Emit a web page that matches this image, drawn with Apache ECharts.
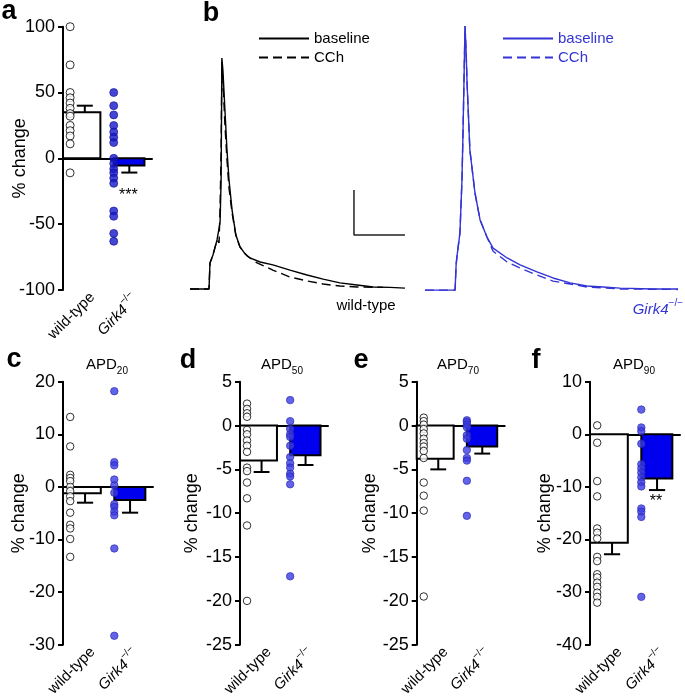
<!DOCTYPE html>
<html><head><meta charset="utf-8">
<script src="https://cdn.jsdelivr.net/npm/echarts@6.0.0/dist/echarts.min.js"></script>
<style>html,body{margin:0;padding:0;background:#fff}#c{width:685px;height:699px}</style>
</head><body><div id="c"></div>
<script>
// ---------------- DATA ----------------
const groups = ['wild-type', 'Girk4−/−'];

// panel a
const aTicks = [-100, -50, 0, 50, 100];
const aWT = [100, 71, 50, 46, 42, 38, 34, 32, 25, 21, 17, 11, -11];
const aKO = [50, 40, 33, 25, 20, 16, 12, 0, -4, -8, -11, -15, -19, -40, -44, -57, -63];
const aMean = [35, -5.5];
const aSEM = [5, 5.3];
const aSig = ['', '***'];

// panel c (APD20)
const cTicks = [-30, -20, -10, 0, 10, 20];
const cWT = [13.3, 7.7, 2.3, 1.7, 1.1, 0, -0.8, -1.8, -2.7, -4.9, -7.2, -7.9, -9.9, -13.3];
const cKO = [18.2, 4.7, 4.1, 1.4, 0.3, -1.1, -3.3, -3.8, -4.7, -5.4, -11.7, -28.3];
const cMean = [-1.2, -2.5];
const cSEM = [1.8, 2.4];

// panel d (APD50)
const dTicks = [-25, -20, -15, -10, -5, 0, 5];
const dWT = [2.5, 1.9, 1.4, 1.0, -0.5, -1.0, -1.7, -2.3, -3.0, -4.8, -5.2, -6.5, -8.3, -11.4, -20.0];
const dKO = [2.9, 0.5, -0.4, -1.0, -1.3, -2.3, -3.6, -4.3, -4.8, -5.5, -5.8, -6.7, -17.2];
const dMean = [-4.0, -3.4];
const dSEM = [1.3, 1.1];

// panel e (APD70)
const eTicks = [-25, -20, -15, -10, -5, 0, 5];
const eWT = [0.9, 0.5, 0.1, -0.4, -0.9, -1.5, -2.0, -2.4, -2.9, -3.7, -6.5, -8.0, -9.7, -19.5];
const eKO = [0.6, 0.4, 0.1, -0.2, -1.1, -1.5, -2.8, -3.7, -4.0, -6.3, -10.3];
const eMean = [-3.8, -2.4];
const eSEM = [1.2, 0.8];

// panel f (APD90)
const fTicks = [-40, -30, -20, -10, 0, 10];
const fWT = [1.7, -1.6, -8.9, -11.8, -17.9, -18.7, -19.8, -23.3, -24.1, -26.6, -27.2, -28.2, -29.0, -30.1, -30.9, -32.0];
const fKO = [4.7, 1.3, 0.6, -1.8, -5.7, -6.5, -7.3, -8.2, -9.1, -9.9, -14.1, -14.7, -15.7, -30.9];
const fMean = [-20.6, -8.4];
const fSEM = [2.2, 2.2];
const fSig = ['', '**'];

// panel b: action potential traces [time ms, mV]
const wtBaseline = [[0,-75.1],[7.45,-75.1],[7.84,-63.5],[9.0,-60.0],[10.6,-53.3],[11.8,-45.3],[12.2,-26.6],[12.5,27.6],[12.9,22.3],[13.7,4.5],[14.5,-13.3],[15.3,-26.6],[16.5,-40.0],[18.0,-51.1],[19.6,-56.4],[21.6,-59.5],[23.5,-61.3],[27.5,-63.1],[32.5,-64.4],[39.2,-66.7],[45.9,-68.9],[52.2,-70.7],[58.8,-72.4],[65.5,-73.3],[71.8,-74.2],[78.4,-74.4],[84.3,-74.7]];
const wtCCh = [[0,-75.1],[7.45,-75.1],[7.84,-63.5],[9.0,-60.0],[10.6,-53.3],[11.4,-54.6],[11.8,-38.6],[12.2,-13.3],[12.5,25.9],[12.9,17.9],[13.7,-2.2],[14.5,-17.7],[15.3,-30.2],[16.5,-41.3],[18.0,-51.5],[19.6,-56.4],[22.4,-60.4],[26.3,-63.5],[32.5,-66.7],[39.2,-69.8],[45.9,-71.5],[52.2,-72.9],[58.8,-73.8],[65.5,-74.2],[75.7,-74.4]];
const koBaseline = [[0,-75.6],[11.8,-75.6],[12.2,-64.4],[12.5,-60.9],[13.7,-50.2],[14.5,-26.6],[14.9,-5.7],[15.7,41.9],[16.1,31.2],[16.5,16.5],[17.6,-13.3],[19.6,-32.4],[21.6,-44.4],[24.3,-52.0],[26.7,-56.9],[32.2,-61.3],[37.3,-64.4],[43.9,-67.5],[50.2,-70.2],[56.9,-72.4],[63.5,-73.8],[69.8,-74.2],[76.5,-74.7],[89.4,-75.1],[99.2,-75.1]];
const koCCh = [[0,-75.6],[11.8,-75.6],[12.2,-64.4],[12.5,-60.9],[13.7,-50.2],[14.5,-26.6],[14.9,-5.7],[15.7,41.9],[16.1,31.2],[16.5,16.5],[17.6,-13.3],[19.6,-32.4],[21.6,-44.4],[24.3,-52.0],[26.7,-58.3],[32.2,-63.1],[37.3,-65.8],[43.9,-68.9],[50.2,-71.6],[56.9,-72.9],[63.5,-74.2],[76.5,-75.1],[99.2,-75.3]];
// scale bar: corner at (ms, mV), 20 mV / 20 ms
const scaleCorner = [64.3, -51.1];
const scaleMs = 20, scaleMV = 20;

// ---------------- LAYOUT / STYLE ----------------
const FONT = "'Liberation Sans', Arial, Helvetica, sans-serif";
const BLUE_BAR = '#0000ee', BLUE_PT_A = '#1717c9', BLUE_PT = '#3c3ce2', BLUE_TRACE = '#3434d4';
const LAY = [
  {pt: 0.08, bar0: 0, bar1: 0.42, err: 0.245},
  {pt: 0.57, bar0: 0.57, bar1: 0.915, err: 0.745}
];
const CAP = 0.09;
const LABEL_X = [0.33, 0.79];

const panels = [
  {grid:{left:63, top:26.7, width:89, height:263.3}, ticks:aTicks, wt:aWT, ko:aKO, mean:aMean, sem:aSEM, sig:aSig, sigOff:15, nameGap:34, ptColor:BLUE_PT_A, ptBorder:'#10108f', ptSize:8},
  {grid:{left:63, top:381.7, width:90, height:263.3}, ticks:cTicks, wt:cWT, ko:cKO, mean:cMean, sem:cSEM, sig:null, nameGap:35, ptColor:BLUE_PT, ptBorder:'#2424b0', ptSize:7.5},
  {grid:{left:240, top:381.7, width:88, height:264.3}, ticks:dTicks, wt:dWT, ko:dKO, mean:dMean, sem:dSEM, sig:null, nameGap:39, ptColor:BLUE_PT, ptBorder:'#2424b0', ptSize:7.5},
  {grid:{left:416.7, top:381.7, width:88, height:264.3}, ticks:eTicks, wt:eWT, ko:eKO, mean:eMean, sem:eSEM, sig:null, nameGap:38, ptColor:BLUE_PT, ptBorder:'#2424b0', ptSize:7.5},
  {grid:{left:590, top:381.7, width:90, height:263.3}, ticks:fTicks, wt:fWT, ko:fKO, mean:fMean, sem:fSEM, sig:fSig, sigOff:4, nameGap:36, ptColor:BLUE_PT, ptBorder:'#2424b0', ptSize:7.5}
];

const grids = [], xAxes = [], yAxes = [], series = [];
const richGirk = {
  i: {fontSize: 15, fontStyle: 'italic', fontFamily: FONT, color: '#000', lineHeight: 16, verticalAlign: 'top', padding: [4,0,0,0]},
  s: {fontSize: 10, fontFamily: FONT, color: '#000', lineHeight: 10, verticalAlign: 'top'}
};

panels.forEach((p) => {
  const gi = grids.length;
  grids.push(p.grid);
  const xMain = xAxes.length;
  xAxes.push({gridIndex: gi, type: 'value', min: 0, max: 1,
    axisLine: {show: true, onZero: true, lineStyle: {color: '#000', width: 2}},
    axisTick: {show: false}, axisLabel: {show: false}, splitLine: {show: false}});
  xAxes.push({gridIndex: gi, type: 'value', min: 0, max: 1, position: 'bottom',
    axisLine: {show: false, onZero: false}, axisTick: {show: false}, splitLine: {show: false},
    axisLabel: {show: true, customValues: LABEL_X, rotate: 45, margin: 5, fontSize: 15, fontFamily: FONT, color: '#000',
      formatter: v => v < 0.5 ? groups[0] : '{i|Girk4}{s|−/−}', rich: richGirk}});
  const yi = yAxes.length;
  const t = p.ticks;
  yAxes.push({gridIndex: gi, type: 'value', min: t[0], max: t[t.length-1], interval: t[1]-t[0],
    axisLine: {show: true, onZero: false, lineStyle: {color: '#000', width: 2}},
    axisTick: {show: true, length: 5, lineStyle: {color: '#000', width: 2}},
    axisLabel: {fontSize: 18, color: '#000', fontFamily: FONT, margin: 8},
    splitLine: {show: false},
    name: '% change', nameLocation: 'middle', nameGap: p.nameGap, nameMoveOverlap: false,
    nameTextStyle: {fontSize: 18, color: '#000', fontFamily: FONT}});

  series.push({type: 'custom', xAxisIndex: xMain, yAxisIndex: yi, z: 2,
    data: p.mean.map((m, i) => [i, m, p.sem[i]]),
    renderItem: (params, api) => {
      const i = api.value(0), m = api.value(1), s = api.value(2);
      const L = LAY[i];
      const p0 = api.coord([L.bar0, 0]), p1 = api.coord([L.bar1, m]);
      const dir = m >= 0 ? 1 : -1;
      const pm = api.coord([L.err, m]), pe = api.coord([L.err, m + dir * s]);
      const c0 = api.coord([L.err - CAP, 0])[0], c1 = api.coord([L.err + CAP, 0])[0];
      const children = [
        {type: 'line', shape: {x1: pm[0], y1: pm[1], x2: pe[0], y2: pe[1]}, style: {stroke: '#000', lineWidth: 2}},
        {type: 'line', shape: {x1: c0, y1: pe[1], x2: c1, y2: pe[1]}, style: {stroke: '#000', lineWidth: 2}},
        {type: 'rect', shape: {x: p0[0], y: Math.min(p0[1], p1[1]), width: p1[0] - p0[0], height: Math.abs(p1[1] - p0[1])},
          style: {fill: i === 0 ? '#fff' : BLUE_BAR, stroke: '#000', lineWidth: 2}}
      ];
      if (p.sig && p.sig[i]) {
        children.push({type: 'text', x: pe[0] - 1, y: pe[1] + p.sigOff,
          style: {text: p.sig[i], font: '16px ' + FONT, fill: '#000', textAlign: 'center', textVerticalAlign: 'top'}});
      }
      return {type: 'group', children};
    }});
  series.push({type: 'scatter', xAxisIndex: xMain, yAxisIndex: yi, z: 5, symbol: 'circle', symbolSize: p.ptSize,
    data: p.wt.map(v => [LAY[0].pt, v]),
    itemStyle: {color: '#fff', borderColor: '#000', borderWidth: 1}});
  series.push({type: 'scatter', xAxisIndex: xMain, yAxisIndex: yi, z: 5, symbol: 'circle', symbolSize: p.ptSize,
    data: p.ko.map(v => [LAY[1].pt, v]),
    itemStyle: {color: p.ptColor, borderColor: p.ptBorder, borderWidth: 0.8}});
});

const traceGrids = [
  {left: 190, top: 19, width: 216.75, height: 281, xmax: 85},
  {left: 425, top: 19, width: 255, height: 281, xmax: 100}
];
const traceAx = traceGrids.map(g => {
  const gi = grids.length;
  grids.push({left: g.left, top: g.top, width: g.width, height: g.height});
  const xi = xAxes.length, yi = yAxes.length;
  xAxes.push({gridIndex: gi, type: 'value', min: 0, max: g.xmax, show: false});
  yAxes.push({gridIndex: gi, type: 'value', min: -80, max: 45, show: false});
  return {xi, yi};
});
function trace(name, data, ax, color, dashed) {
  return {name, type: 'line', xAxisIndex: ax.xi, yAxisIndex: ax.yi, data, symbol: 'none', z: 3,
    lineStyle: {color, width: 1.4, type: dashed ? [9, 5] : 'solid'}, itemStyle: {color}, animation: false};
}
series.push(trace('wt CCh', wtCCh, traceAx[0], '#000', true));
series.push(trace('wt baseline', wtBaseline, traceAx[0], '#000', false));
series.push(trace('ko CCh', koCCh, traceAx[1], BLUE_TRACE, true));
series.push(trace('ko baseline', koBaseline, traceAx[1], BLUE_TRACE, false));
series.push({type: 'line', xAxisIndex: traceAx[0].xi, yAxisIndex: traceAx[0].yi, symbol: 'none',
  data: [[scaleCorner[0], scaleCorner[1] + scaleMV], scaleCorner, [scaleCorner[0] + scaleMs, scaleCorner[1]]],
  lineStyle: {color: '#222', width: 1.5}, silent: true});

const legendBase = {orient: 'vertical', itemWidth: 50, itemHeight: 14, itemGap: 4, itemStyle: {opacity: 0},
  formatter: n => n.split(' ')[1], selectedMode: false};
const legends = [
  Object.assign({}, legendBase, {data: ['wt baseline', 'wt CCh'], left: 253, top: 26, textStyle: {fontSize: 15, color: '#000', fontFamily: FONT}}),
  Object.assign({}, legendBase, {data: ['ko baseline', 'ko CCh'], left: 497, top: 26, textStyle: {fontSize: 15, color: BLUE_TRACE, fontFamily: FONT}})
];

function letter(t, x, y) {
  return {type: 'text', x, y, style: {text: t, font: 'bold 27px ' + FONT, fill: '#000', textAlign: 'center', textVerticalAlign: 'middle'}};
}
function apd(sub, x, y) {
  return {type: 'text', x, y, style: {text: '{a|APD}{s|' + sub + '}', textAlign: 'center', textVerticalAlign: 'middle',
    rich: {a: {fontSize: 15, fontFamily: FONT, fill: '#000', lineHeight: 16, verticalAlign: 'top'},
           s: {fontSize: 10, fontFamily: FONT, fill: '#000', lineHeight: 10, verticalAlign: 'top', padding: [9,0,0,0]}}}};
}
const graphics = [
  letter('a', 9, 12), letter('b', 211, 14), letter('c', 14, 360), letter('d', 188, 361), letter('e', 361, 361), letter('f', 536, 361),
  apd('20', 107, 365), apd('50', 282, 365), apd('70', 458, 365), apd('90', 634, 365),
  {type: 'text', x: 366, y: 306, style: {text: 'wild-type', font: '15px ' + FONT, fill: '#000', textAlign: 'center', textVerticalAlign: 'middle'}},
  {type: 'text', x: 683, y: 306, style: {text: '{i|Girk4}{s|−/−}', textAlign: 'right', textVerticalAlign: 'middle',
    rich: {i: {fontSize: 15, fontStyle: 'italic', fontFamily: FONT, fill: BLUE_TRACE, lineHeight: 16, verticalAlign: 'top', padding: [4,0,0,0]},
           s: {fontSize: 10, fontFamily: FONT, fill: BLUE_TRACE, lineHeight: 10, verticalAlign: 'top'}}}}
];

const chart = echarts.init(document.getElementById('c'), null, {width: 685, height: 699});
chart.setOption({
  backgroundColor: '#fff', animation: false,
  grid: grids, xAxis: xAxes, yAxis: yAxes, series, legend: legends, graphic: graphics
});
</script></body></html>
